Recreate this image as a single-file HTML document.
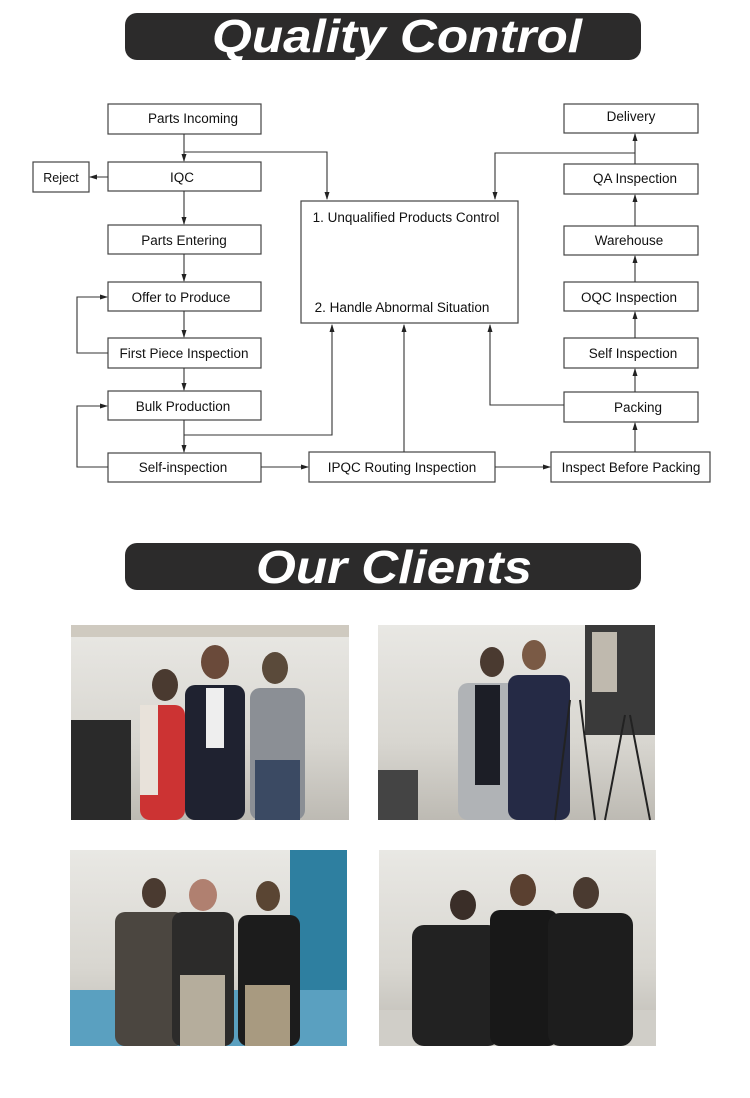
<!DOCTYPE html>
<html><head><meta charset="utf-8"><style>
html,body{margin:0;padding:0;background:#fff;}
body{width:750px;height:1098px;position:relative;overflow:hidden;font-family:"Liberation Sans",sans-serif;}
svg{position:absolute;left:0;top:0;}
</style></head><body>
<svg width="750" height="1098" viewBox="0 0 750 1098" xmlns="http://www.w3.org/2000/svg">
<defs>
<marker id="a" markerWidth="8" markerHeight="8" refX="7" refY="4" orient="auto" markerUnits="userSpaceOnUse">
<path d="M0,1.5 L8,4 L0,6.5 z" fill="#222"/></marker>
<linearGradient id="bg1" x1="0" y1="0" x2="0" y2="1"><stop offset="0" stop-color="#e9e8e4"/><stop offset="0.6" stop-color="#d8d6d0"/><stop offset="1" stop-color="#bdbab3"/></linearGradient>
</defs>
<!-- banners -->
<rect x="125" y="13" width="516" height="47" rx="12" fill="#2c2b2b"/>
<text x="397" y="52" text-anchor="middle" font-family="Liberation Sans" font-weight="bold" font-style="italic" font-size="46" fill="#fff" textLength="370" lengthAdjust="spacingAndGlyphs">Quality Control</text>
<rect x="125" y="543" width="516" height="47" rx="12" fill="#2c2b2b"/>
<text x="394" y="583" text-anchor="middle" font-family="Liberation Sans" font-weight="bold" font-style="italic" font-size="46" fill="#fff" textLength="276" lengthAdjust="spacingAndGlyphs">Our Clients</text>

<g fill="#fff" stroke="#444" stroke-width="1.2">
<rect x="108" y="104" width="153" height="30"/>
<rect x="33" y="162" width="56" height="30"/>
<rect x="108" y="162" width="153" height="29"/>
<rect x="108" y="225" width="153" height="29"/>
<rect x="108" y="282" width="153" height="29"/>
<rect x="108" y="338" width="153" height="30"/>
<rect x="108" y="391" width="153" height="29"/>
<rect x="108" y="453" width="153" height="29"/>
<rect x="301" y="201" width="217" height="122"/>
<rect x="309" y="452" width="186" height="30"/>
<rect x="551" y="452" width="159" height="30"/>
<rect x="564" y="104" width="134" height="29"/>
<rect x="564" y="164" width="134" height="30"/>
<rect x="564" y="226" width="134" height="29"/>
<rect x="564" y="282" width="134" height="29"/>
<rect x="564" y="338" width="134" height="30"/>
<rect x="564" y="392" width="134" height="30"/>
</g>
<g font-size="13.5" fill="#111" text-anchor="middle">
<text x="193" y="123">Parts Incoming</text>
<text x="61" y="182" font-size="12.5">Reject</text>
<text x="182" y="182">IQC</text>
<text x="184" y="245">Parts Entering</text>
<text x="181" y="302">Offer to Produce</text>
<text x="184" y="358">First Piece Inspection</text>
<text x="183" y="411">Bulk Production</text>
<text x="183" y="472">Self-inspection</text>
<text x="402" y="472">IPQC Routing Inspection</text>
<text x="631" y="472">Inspect Before Packing</text>
<text x="631" y="121">Delivery</text>
<text x="635" y="183">QA Inspection</text>
<text x="629" y="245">Warehouse</text>
<text x="629" y="302">OQC Inspection</text>
<text x="633" y="358">Self Inspection</text>
<text x="638" y="412">Packing</text>
<text x="406" y="222" >1. Unqualified Products Control</text>
<text x="402" y="312">2. Handle Abnormal Situation</text>
</g>
<g stroke="#333" stroke-width="1.1" fill="none">
<line x1="184" y1="134" x2="184" y2="161" marker-end="url(#a)"/>
<polyline points="184,152 327,152 327,199" marker-end="url(#a)"/>
<line x1="108" y1="177" x2="90" y2="177" marker-end="url(#a)"/>
<line x1="184" y1="191" x2="184" y2="224" marker-end="url(#a)"/>
<line x1="184" y1="254" x2="184" y2="281" marker-end="url(#a)"/>
<line x1="184" y1="311" x2="184" y2="337" marker-end="url(#a)"/>
<line x1="184" y1="368" x2="184" y2="390" marker-end="url(#a)"/>
<line x1="184" y1="420" x2="184" y2="452" marker-end="url(#a)"/>
<polyline points="108,353 77,353 77,297 107,297" marker-end="url(#a)"/>
<polyline points="108,467 77,467 77,406 107,406" marker-end="url(#a)"/>
<polyline points="184,435 332,435 332,325" marker-end="url(#a)"/>
<line x1="404" y1="452" x2="404" y2="325" marker-end="url(#a)"/>
<polyline points="564,405 490,405 490,325" marker-end="url(#a)"/>
<line x1="261" y1="467" x2="308" y2="467" marker-end="url(#a)"/>
<line x1="495" y1="467" x2="550" y2="467" marker-end="url(#a)"/>
<line x1="635" y1="452" x2="635" y2="423" marker-end="url(#a)"/>
<line x1="635" y1="392" x2="635" y2="369" marker-end="url(#a)"/>
<line x1="635" y1="338" x2="635" y2="312" marker-end="url(#a)"/>
<line x1="635" y1="282" x2="635" y2="256" marker-end="url(#a)"/>
<line x1="635" y1="226" x2="635" y2="195" marker-end="url(#a)"/>
<line x1="635" y1="164" x2="635" y2="134" marker-end="url(#a)"/>
<polyline points="635,153 495,153 495,199" marker-end="url(#a)"/>
</g>

<!-- photos -->
<g>
<rect x="71" y="625" width="278" height="195" fill="url(#bg1)"/>
<rect x="71" y="720" width="60" height="100" fill="#2a2a2a"/>
<rect x="71" y="625" width="278" height="12" fill="#cfcac0"/>
<ellipse cx="165" cy="685" rx="13" ry="16" fill="#4a3a30"/>
<rect x="140" y="705" width="45" height="115" rx="10" fill="#c33"/>
<rect x="140" y="705" width="18" height="90" fill="#e8e2da"/>
<ellipse cx="215" cy="662" rx="14" ry="17" fill="#6a4a3a"/>
<rect x="185" y="685" width="60" height="135" rx="10" fill="#1f2230"/>
<rect x="206" y="688" width="18" height="60" fill="#eee"/>
<ellipse cx="275" cy="668" rx="13" ry="16" fill="#5a4a3a"/>
<rect x="250" y="688" width="55" height="132" rx="10" fill="#8b8f95"/>
<rect x="255" y="760" width="45" height="60" fill="#3b4a63"/>

<rect x="378" y="625" width="277" height="195" fill="url(#bg1)"/>
<rect x="585" y="625" width="70" height="110" fill="#3a3a3a"/>
<rect x="592" y="632" width="25" height="60" fill="#bfb9ae"/>
<ellipse cx="492" cy="662" rx="12" ry="15" fill="#4a3a30"/>
<rect x="458" y="683" width="60" height="137" rx="10" fill="#b0b3b6"/>
<rect x="475" y="685" width="25" height="100" fill="#1c1e26"/>
<ellipse cx="534" cy="655" rx="12" ry="15" fill="#7a5a45"/>
<rect x="508" y="675" width="62" height="145" rx="10" fill="#252a45"/>
<rect x="378" y="770" width="40" height="50" fill="#444"/>
<path d="M570 700 L555 820 M580 700 L595 820 M625 715 L605 820 M630 715 L650 820" stroke="#222" stroke-width="2"/>

<rect x="70" y="850" width="277" height="196" fill="url(#bg1)"/>
<rect x="290" y="850" width="57" height="196" fill="#2e7fa0"/>
<rect x="70" y="990" width="277" height="56" fill="#5aa0c0"/>
<ellipse cx="154" cy="893" rx="12" ry="15" fill="#4a3a30"/>
<rect x="115" y="912" width="70" height="134" rx="10" fill="#4b4640"/>
<ellipse cx="203" cy="895" rx="14" ry="16" fill="#b08070"/>
<rect x="172" y="912" width="62" height="134" rx="10" fill="#2c2b2a"/>
<rect x="180" y="975" width="45" height="71" fill="#b5ad9c"/>
<ellipse cx="268" cy="896" rx="12" ry="15" fill="#5a4533"/>
<rect x="238" y="915" width="62" height="131" rx="10" fill="#1c1c1c"/>
<rect x="245" y="985" width="45" height="61" fill="#a89a80"/>

<rect x="379" y="850" width="277" height="196" fill="url(#bg1)"/>
<rect x="379" y="1010" width="277" height="36" fill="#d0cec8"/>
<ellipse cx="463" cy="905" rx="13" ry="15" fill="#3a2e28"/>
<rect x="412" y="925" width="88" height="121" rx="12" fill="#222"/>
<ellipse cx="523" cy="890" rx="13" ry="16" fill="#5a4030"/>
<rect x="490" y="910" width="68" height="136" rx="10" fill="#181818"/>
<ellipse cx="586" cy="893" rx="13" ry="16" fill="#4a3a30"/>
<rect x="548" y="913" width="85" height="133" rx="12" fill="#1d1d1d"/>
</g>
</svg>
</body></html>
